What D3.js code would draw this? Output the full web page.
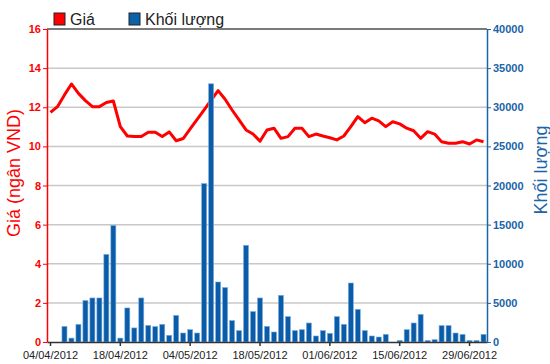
<!DOCTYPE html>
<html>
<head>
<meta charset="utf-8">
<script src="https://cdn.jsdelivr.net/npm/d3@7"></script>
<style>
    body { margin: 0; background: #fff; }
    svg { display: block; font-family: "Liberation Sans", Arial, sans-serif; }
</style>
</head>
<body>
<div id="chart"></div>
<script>
// trading days (Apr - Jul 2012)
const dates = [
    '04/04/2012', '05/04/2012', '06/04/2012', '09/04/2012', '10/04/2012', '11/04/2012', '12/04/2012',
    '13/04/2012', '16/04/2012', '17/04/2012', '18/04/2012', '19/04/2012', '20/04/2012', '23/04/2012',
    '24/04/2012', '25/04/2012', '26/04/2012', '27/04/2012', '02/05/2012', '03/05/2012', '04/05/2012',
    '07/05/2012', '08/05/2012', '09/05/2012', '10/05/2012', '11/05/2012', '14/05/2012', '15/05/2012',
    '16/05/2012', '17/05/2012', '18/05/2012', '21/05/2012', '22/05/2012', '23/05/2012', '24/05/2012',
    '25/05/2012', '28/05/2012', '29/05/2012', '30/05/2012', '31/05/2012', '01/06/2012', '04/06/2012',
    '05/06/2012', '06/06/2012', '07/06/2012', '08/06/2012', '11/06/2012', '12/06/2012', '13/06/2012',
    '14/06/2012', '15/06/2012', '18/06/2012', '19/06/2012', '20/06/2012', '21/06/2012', '22/06/2012',
    '25/06/2012', '26/06/2012', '27/06/2012', '28/06/2012', '29/06/2012', '02/07/2012', '03/07/2012'
];

// Giá (ngàn VND)
const prices = [
    11.74, 12.03, 12.63, 13.19, 12.71, 12.34, 12.03, 12.03, 12.24, 12.32,
    11.01, 10.53, 10.50, 10.50, 10.72, 10.72, 10.50, 10.74, 10.29, 10.40,
    10.89, 11.38, 11.87, 12.36, 12.85, 12.41, 11.86, 11.35, 10.84, 10.63,
    10.27, 10.84, 10.93, 10.41, 10.50, 10.93, 10.93, 10.50, 10.63, 10.53,
    10.44, 10.33, 10.53, 11.01, 11.52, 11.21, 11.44, 11.30, 11.01, 11.26,
    11.15, 10.93, 10.80, 10.41, 10.75, 10.63, 10.24, 10.16, 10.16, 10.24,
    10.12, 10.33, 10.24
];

// Khối lượng
const volumes = [
    0, 0, 2000, 500, 2260, 5300, 5630, 5630, 11200, 14900,
    500, 4350, 1800, 5630, 2130, 1970, 2260, 860, 3400, 1150,
    1580, 1150, 20250, 33000, 7670, 6960, 2740, 1460, 12360, 3890,
    5630, 2000, 1280, 5970, 3250, 1460, 1580, 2430, 770, 1460,
    1110, 3250, 2260, 7540, 4180, 1460, 770, 640, 980, 0,
    200, 1580, 2430, 3540, 200, 300, 2100, 2100, 1150, 980,
    200, 200, 980
];

const priceTicks = [0, 2, 4, 6, 8, 10, 12, 14, 16];
const volumeTicks = [0, 5000, 10000, 15000, 20000, 25000, 30000, 35000, 40000];
const dateTicks = ['04/04/2012', '18/04/2012', '04/05/2012', '18/05/2012', '01/06/2012', '15/06/2012', '29/06/2012'];

const RED = '#ff0000';
const BLUE = '#1a64a8';

const margin = { top: 29, right: 63, bottom: 22, left: 47 };
const width = 550 - margin.left - margin.right;
const height = 364 - margin.top - margin.bottom;

const svg = d3.select('#chart')
    .append('svg')
    .attr('width', width + margin.left + margin.right)
    .attr('height', height + margin.top + margin.bottom);

const group = svg.append('g')
    .attr('transform', 'translate(' + margin.left + ',' + margin.top + ')');

const xScale = d3.scaleBand().domain(dates).range([0, width]);
const yPrice = d3.scaleLinear().domain([0, 16]).range([height, 0]);
const yVolume = d3.scaleLinear().domain([0, 40000]).range([height, 0]);
const xMid = d => xScale(d) + xScale.bandwidth() / 2;

// gridlines
group.selectAll('.grid')
    .data(priceTicks.slice(1, -1))
    .enter()
    .append('line')
    .attr('class', 'grid')
    .attr('x1', 0).attr('x2', width)
    .attr('y1', d => yPrice(d)).attr('y2', d => yPrice(d))
    .attr('stroke', '#c8c8c8')
    .attr('stroke-width', 1.5);

// top frame line
group.append('line')
    .attr('x1', 0).attr('x2', width)
    .attr('y1', yPrice(16)).attr('y2', yPrice(16))
    .attr('stroke', '#7a7a7a')
    .attr('stroke-width', 2);

// price line
const line = d3.line()
    .x((d, i) => xMid(dates[i]))
    .y(d => yPrice(d));

group.append('path')
    .datum(prices)
    .attr('d', line)
    .attr('fill', 'none')
    .attr('stroke', RED)
    .attr('stroke-width', 3)
    .attr('stroke-linejoin', 'round');

// volume bars
const barW = xScale.bandwidth() * 0.72;
group.selectAll('.bar')
    .data(volumes)
    .enter()
    .append('rect')
    .attr('class', 'bar')
    .attr('x', (d, i) => xMid(dates[i]) - barW / 2)
    .attr('y', d => yVolume(d))
    .attr('width', barW)
    .attr('height', d => height - yVolume(d))
    .attr('fill', '#0b5ca8')
    .attr('stroke', '#7eb0de')
    .attr('stroke-width', 0.6);

// axes
const xAxis = d3.axisBottom(xScale).tickValues(dateTicks).tickSize(4).tickSizeOuter(0).tickPadding(5);
const xAxisGroup = group.append('g')
    .attr('class', 'x-axis axis')
    .attr('transform', 'translate(0,' + height + ')')
    .call(xAxis);
xAxisGroup.select('.domain').attr('stroke', '#333').attr('stroke-width', 1.5);
xAxisGroup.selectAll('.tick line').attr('stroke', '#333').attr('stroke-width', 1.5);
xAxisGroup.selectAll('text').attr('fill', '#222').style('font-size', '11px');

const yAxis = d3.axisLeft(yPrice).tickValues(priceTicks).tickSize(4).tickSizeOuter(0).tickPadding(2);
const yAxisGroup = group.append('g').attr('class', 'y-axis axis').call(yAxis);
yAxisGroup.select('.domain').attr('stroke', RED).attr('stroke-width', 1.5);
yAxisGroup.selectAll('.tick line').attr('stroke', RED);
yAxisGroup.selectAll('text').attr('fill', RED).style('font-size', '11px').style('font-weight', 'bold');

const y2Axis = d3.axisRight(yVolume).tickValues(volumeTicks).tickFormat(d3.format('d'))
    .tickSize(4).tickSizeOuter(0).tickPadding(2);
const y2AxisGroup = group.append('g')
    .attr('class', 'y2-axis axis')
    .attr('transform', 'translate(' + width + ',0)')
    .call(y2Axis);
y2AxisGroup.select('.domain').attr('stroke', BLUE).attr('stroke-width', 1.5);
y2AxisGroup.selectAll('.tick line').attr('stroke', BLUE);
y2AxisGroup.selectAll('text').attr('fill', BLUE).style('font-size', '11px').style('font-weight', 'bold');

// axis titles
svg.append('text')
    .attr('transform', 'translate(20,173) rotate(-90)')
    .attr('text-anchor', 'middle')
    .attr('fill', RED)
    .style('font-size', '18px')
    .text('Giá (ngân VND)');

svg.append('text')
    .attr('transform', 'translate(547,170) rotate(-90)')
    .attr('text-anchor', 'middle')
    .attr('fill', BLUE)
    .style('font-size', '18px')
    .text('Khối lượng');

// legend
const legend = [
    { label: 'Giá', color: RED, x: 54 },
    { label: 'Khối lượng', color: '#0b62a8', x: 129 }
];
const lg = svg.selectAll('.legend').data(legend).enter().append('g').attr('class', 'legend');
lg.append('rect')
    .attr('x', d => d.x).attr('y', 13)
    .attr('width', 11).attr('height', 12)
    .attr('fill', d => d.color)
    .attr('stroke', '#222')
    .attr('stroke-width', 1);
lg.append('text')
    .attr('x', d => d.x + 16).attr('y', 25)
    .attr('fill', '#222')
    .style('font-size', '16px')
    .text(d => d.label);
</script>
</body>
</html>
